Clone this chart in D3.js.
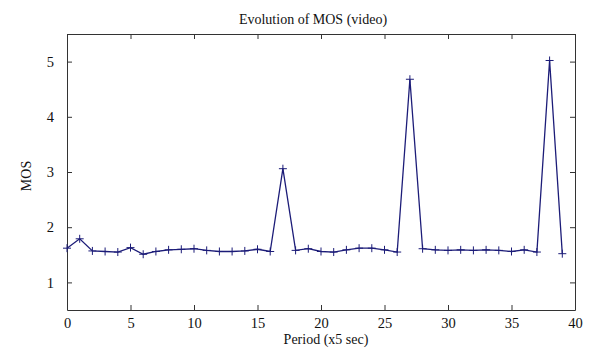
<!DOCTYPE html>
<html><head><meta charset="utf-8">
<script src="https://cdn.jsdelivr.net/npm/d3@7"></script>
<style>body{margin:0;background:#fff}svg{display:block}text{font-family:"Liberation Serif","DejaVu Serif",serif;fill:#111}</style>
</head><body>
<script>
const periods = d3.range(0, 40);
const mos = [1.62,1.79,1.57,1.56,1.55,1.63,1.51,1.56,1.59,1.60,
             1.61,1.58,1.56,1.56,1.57,1.60,1.56,3.06,1.58,1.61,
             1.56,1.55,1.59,1.62,1.62,1.59,1.55,4.68,1.61,1.59,
             1.58,1.59,1.58,1.59,1.58,1.56,1.59,1.55,5.02,1.52];
const xTicks = [0,5,10,15,20,25,30,35,40];
const yTicks = [1,2,3,4,5];
const title = "Evolution of MOS (video)";
const xLabel = "Period (x5 sec)";
const yLabel = "MOS";

const W = 599, H = 351;
const m = {left:67, right:24, top:34, bottom:41};
const svg = d3.select("body").append("svg").attr("width", W).attr("height", H);
const x = d3.scaleLinear().domain([0,40]).range([m.left, W - m.right]);
const y = d3.scaleLinear().domain([0.5,5.5]).range([H - m.bottom, m.top]);
const axisColor = "#333";
const tl = 5;
const fmt = d3.format("d");

function style(g){ g.selectAll("path").attr("stroke", axisColor); g.selectAll("line").attr("stroke", axisColor); g.selectAll("text").attr("font-size", 14.5).attr("font-family","Liberation Serif, serif").attr("fill","#111"); }

svg.append("g").attr("transform", `translate(0,${H-m.bottom})`)
  .call(d3.axisBottom(x).tickValues(xTicks).tickFormat(fmt).tickSizeInner(-tl).tickSizeOuter(0).tickPadding(8))
  .call(style);
svg.append("g").attr("transform", `translate(0,${m.top})`)
  .call(d3.axisTop(x).tickValues(xTicks).tickSizeInner(-tl).tickSizeOuter(0).tickFormat(""))
  .call(style);
svg.append("g").attr("transform", `translate(${m.left},0)`)
  .call(d3.axisLeft(y).tickValues(yTicks).tickFormat(fmt).tickSizeInner(-tl).tickSizeOuter(0).tickPadding(13))
  .call(style);
svg.append("g").attr("transform", `translate(${W-m.right},0)`)
  .call(d3.axisRight(y).tickValues(yTicks).tickSizeInner(-tl).tickSizeOuter(0).tickFormat(""))
  .call(style);

const line = d3.line().x((d,i)=>x(periods[i])).y(d=>y(d));
svg.append("path").datum(mos).attr("d", line).attr("fill","none")
  .attr("stroke","#1c1c78").attr("stroke-width",1.3);

const pts = svg.append("g").attr("stroke","#1c1c78").attr("stroke-width",1);
mos.forEach((v,i)=>{
  const cx = x(periods[i]), cy = y(v);
  pts.append("line").attr("x1",cx-4).attr("x2",cx+4).attr("y1",cy).attr("y2",cy);
  pts.append("line").attr("x1",cx).attr("x2",cx).attr("y1",cy-4).attr("y2",cy+4);
});

svg.append("text").attr("x", 313).attr("y", 24)
  .attr("text-anchor","middle").attr("font-size",14).text(title);
svg.append("text").attr("x", 326).attr("y", 344)
  .attr("text-anchor","middle").attr("font-size",14).text(xLabel);
svg.append("text").attr("transform", `translate(31,176) rotate(-90)`)
  .attr("text-anchor","middle").attr("font-size",14).text(yLabel);
</script>
</body></html>
